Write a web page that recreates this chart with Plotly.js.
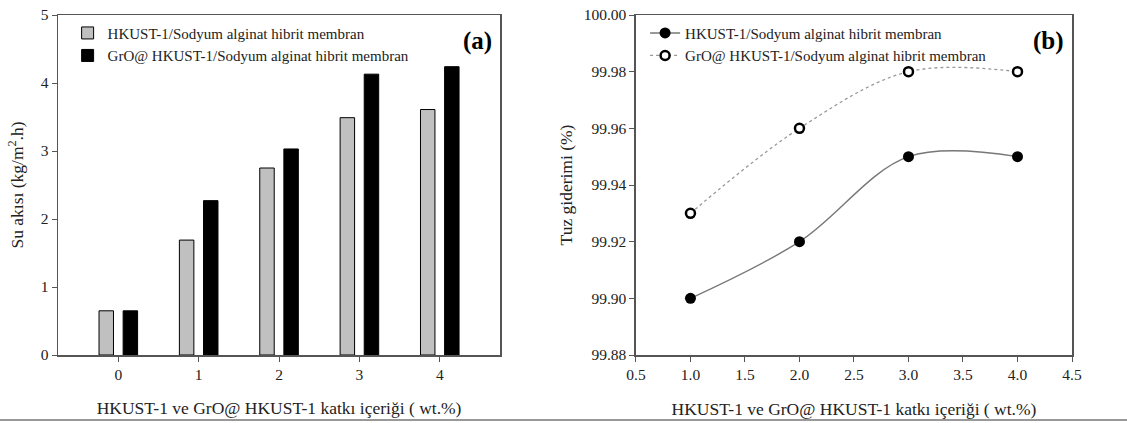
<!DOCTYPE html>
<html><head><meta charset="utf-8">
<script src="https://cdn.plot.ly/plotly-3.0.1.min.js"></script>
<style>body{margin:0;background:#fff}#chart{width:1127px;height:423px}</style>
</head><body><div id="chart"></div>
<script>
const barCategories = [0, 1, 2, 3, 4];
const barHKUST = [0.65, 1.69, 2.75, 3.49, 3.61];
const barGrO = [0.65, 2.27, 3.03, 4.13, 4.24];
const lineX = [1.0, 2.0, 3.0, 4.0];
const saltHKUST = [99.90, 99.92, 99.95, 99.95];
const saltGrO = [99.93, 99.96, 99.98, 99.98];
const name1 = "HKUST-1/Sodyum alginat hibrit membran";
const name2 = "GrO@ HKUST-1/Sodyum alginat hibrit membran";
const xTitle = "HKUST-1 ve GrO@ HKUST-1 katkı içeriği ( wt.%)";

const serif = "Liberation Serif, Times New Roman, serif";
const axisCommon = {
  showline: true, mirror: true, linecolor: "#555", linewidth: 1.5,
  ticks: "outside", ticklen: 5, tickcolor: "#555", showgrid: false, zeroline: false,
  tickfont: {family: serif, size: 15.5, color: "#222"}
};
const titleFont = {family: serif, size: 17.5, color: "#222"};

const traces = [
  {type: "bar", x: barCategories, y: barHKUST, name: name1, width: 0.18, offset: -0.24,
   marker: {color: "#c0c0c0", line: {color: "#000", width: 1}}, xaxis: "x", yaxis: "y", legend: "legend"},
  {type: "bar", x: barCategories, y: barGrO, name: name2, width: 0.18, offset: 0.06,
   marker: {color: "#000", line: {color: "#000", width: 1}}, xaxis: "x", yaxis: "y", legend: "legend"},
  {type: "scatter", mode: "lines+markers", x: lineX, y: saltHKUST, name: name1,
   line: {shape: "spline", smoothing: 1, color: "#777", width: 1.4},
   marker: {symbol: "circle", size: 11, color: "#000"}, xaxis: "x2", yaxis: "y2", legend: "legend2"},
  {type: "scatter", mode: "lines+markers", x: lineX, y: saltGrO, name: name2,
   line: {shape: "spline", smoothing: 1, color: "#999", width: 1.3, dash: "dot"},
   marker: {symbol: "circle", size: 9, color: "#fff", line: {color: "#000", width: 2.5}}, xaxis: "x2", yaxis: "y2", legend: "legend2"}
];

const layout = {
  width: 1127, height: 423,
  margin: {l: 0, r: 0, t: 15, b: 68},
  paper_bgcolor: "#fff", plot_bgcolor: "#fff",
  showlegend: true,
  barmode: "overlay",
  font: {family: serif, color: "#222"},
  xaxis: Object.assign({}, axisCommon, {domain: [0.0515, 0.4437], range: [-0.75, 4.75],
    tickvals: barCategories, ticktext: barCategories.map(String),
    title: {text: xTitle, font: titleFont, standoff: 19}}),
  yaxis: Object.assign({}, axisCommon, {range: [0, 5], dtick: 1,
    title: {text: "Su akısı (kg/m<sup>2</sup>.h)", font: titleFont, standoff: 12}}),
  xaxis2: Object.assign({}, axisCommon, {domain: [0.5643, 0.9512], anchor: "y2", range: [0.5, 4.5], dtick: 0.5, tickformat: ".1f",
    title: {text: xTitle, font: titleFont, standoff: 20}}),
  yaxis2: Object.assign({}, axisCommon, {anchor: "x2", range: [99.88, 100.0], dtick: 0.02, tickformat: ".2f",
    title: {text: "Tuz giderimi (%)", font: titleFont, standoff: 6}}),
  legend: {x: 0.06, y: 0.995, xanchor: "left", yanchor: "top", bgcolor: "rgba(0,0,0,0)",
    font: {family: serif, size: 15, color: "#222"}, tracegroupgap: 0, itemwidth: 30},
  legend2: {x: 0.5724, y: 0.995, xanchor: "left", yanchor: "top", bgcolor: "rgba(0,0,0,0)",
    font: {family: serif, size: 15, color: "#222"}, tracegroupgap: 0, itemwidth: 30},
  annotations: [
    {xref: "paper", yref: "paper", x: 0.4385, y: 0.97, xanchor: "right", yanchor: "top", showarrow: false,
     text: "<b>(a)</b>", font: {family: serif, size: 25, color: "#000"}},
    {xref: "paper", yref: "paper", x: 0.9455, y: 0.97, xanchor: "right", yanchor: "top", showarrow: false,
     text: "<b>(b)</b>", font: {family: serif, size: 25, color: "#000"}}
  ],
  shapes: [
    {type: "line", xref: "paper", yref: "paper", x0: 0, x1: 1, y0: -0.191, y1: -0.191,
     line: {color: "#999", width: 2}}
  ]
};

Plotly.newPlot("chart", traces, layout, {displayModeBar: false, staticPlot: true});
</script>
</body></html>
